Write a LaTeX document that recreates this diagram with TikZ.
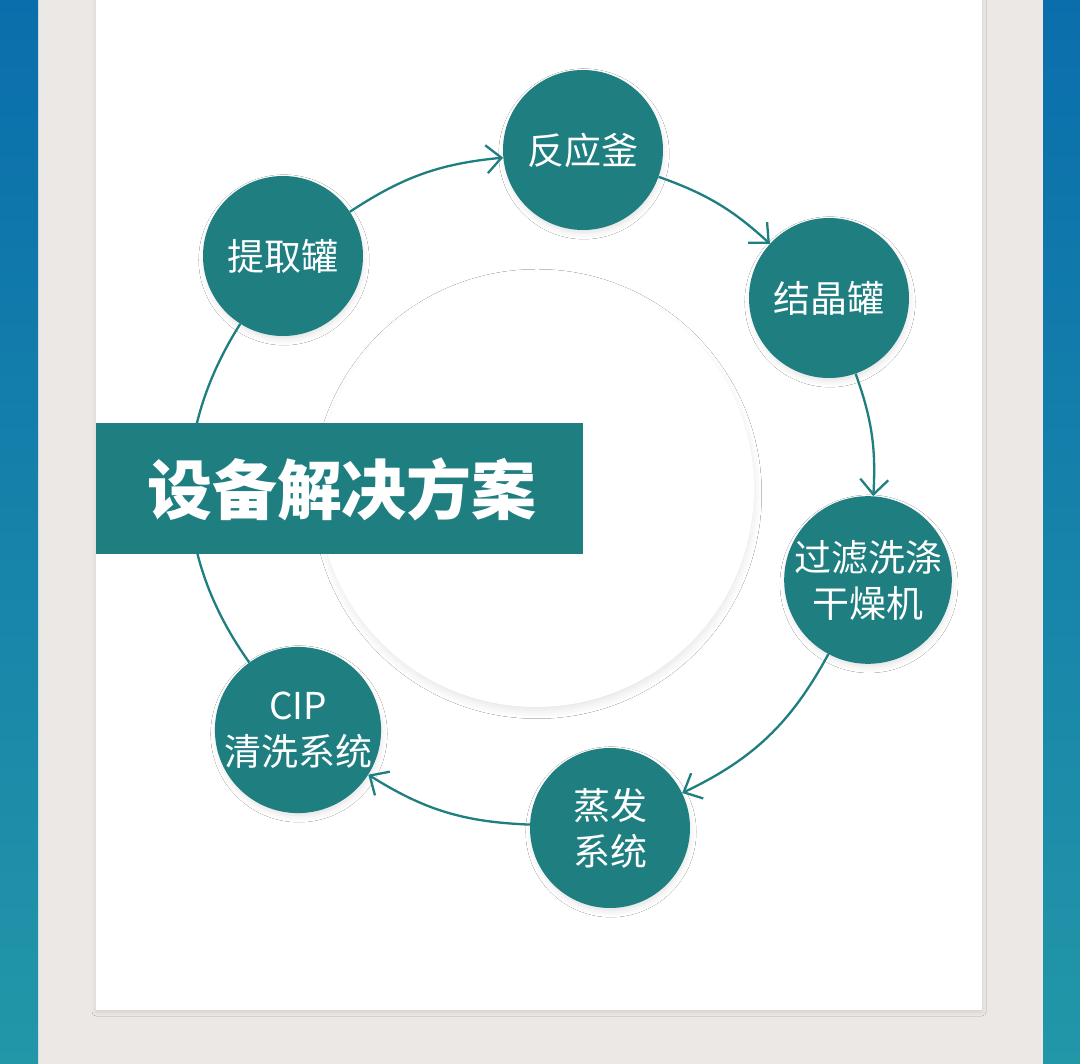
\documentclass[tikz,border=0pt]{standalone}
\usepackage{fontspec}
\setmainfont{Noto Sans CJK SC}
\usetikzlibrary{arrows.meta,shadows.blur}
\definecolor{teal1}{HTML}{1E7E80}
\definecolor{bluetop}{HTML}{0A6EAC}
\definecolor{bluebot}{HTML}{2297A8}
\definecolor{paper}{HTML}{EBE8E5}
\begin{document}
\begin{tikzpicture}[x=1pt,y=-1pt,
  stepnode/.style={circle, fill=teal1, minimum size=160pt, inner sep=0pt, text=white,
    font=\fontsize{37}{46}\selectfont, align=center,
    blur shadow={shadow xshift=1pt, shadow yshift=-4pt, shadow blur radius=7pt, shadow opacity=13, shadow scale=0.98}},
  flow/.style={draw=teal1, line width=2.3pt, -{Straight Barb[length=15pt,width=28pt,line width=2.3pt]}},
  ]
\useasboundingbox (0,0) rectangle (1080,1064);
\fill[paper] (0,0) rectangle (1080,1064);
\shade[top color=bluetop, bottom color=bluebot] (0,0) rectangle (38,1064);
\shade[top color=bluetop, bottom color=bluebot] (1043,0) rectangle (1080,1064);
\fill[white, blur shadow={shadow xshift=0pt, shadow yshift=-2pt, shadow blur radius=4pt, shadow opacity=10}] (96,-10) rectangle (982,1010);

\node[circle, fill=white, minimum size=436pt, inner sep=0pt,
  blur shadow={shadow xshift=1pt, shadow yshift=-5pt, shadow blur radius=9pt, shadow opacity=12, shadow scale=0.99}] (hub) at (536,489) {};

\node[stepnode] (fy) at (583,150) {反应釜};
\node[stepnode] (jj) at (829,298) {结晶罐};
\node[stepnode] (gl) at (868,580) {过滤洗涤\\干燥机};
\node[stepnode] (zf) at (610,828) {蒸发\\系统};
\node[stepnode] (cip) at (298,730) {CIP\\清洗系统};
\node[stepnode] (tq) at (283,256) {提取罐};

\draw[flow] (tq) to[bend left=14] (fy);
\draw[flow] (fy) to[bend left=11.5] (jj);
\draw[flow] (jj) to[bend left=11.5] (gl);
\draw[flow] (gl) to[bend left=18] (zf);
\draw[flow] (zf) to[bend left=15] (cip);
\draw[flow,-] (cip) to[bend left=34] (tq);

\node[fill=teal1, minimum width=487pt, minimum height=131pt, inner sep=0pt, text=white,
  font=\fontsize{65}{65}\selectfont\bfseries] (title) at (339.5,489) {\hspace*{5pt}设备解决方案};
\end{tikzpicture}
\end{document}
